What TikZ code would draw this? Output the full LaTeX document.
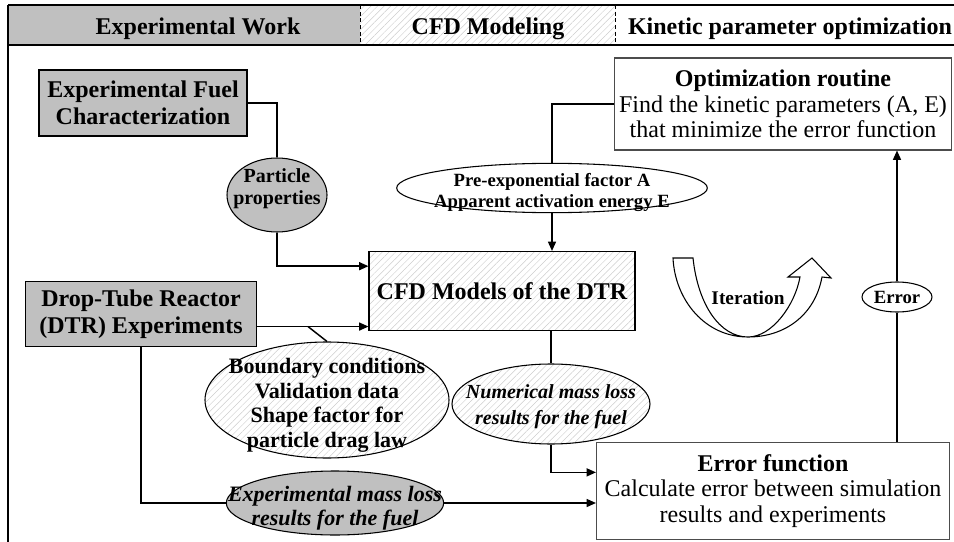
\documentclass[tikz,border=0pt]{standalone}
\usepackage{fontspec}
\setmainfont{Liberation Serif}
\usetikzlibrary{arrows.meta,positioning,calc,shapes.geometric,patterns.meta}
\definecolor{boxgray}{RGB}{192,192,192}
\definecolor{hatchgray}{RGB}{205,205,205}
% text of an ellipse, kept out of the shape size
\newcommand{\elltext}[2][-4pt]{\smash{\makebox[0pt]{\raisebox{#1}{\begin{tabular}{@{}c@{}}#2\end{tabular}}}}}

\begin{document}
\begin{tikzpicture}[x=0.75pt, y=-0.75pt,
  graybox/.style={draw, fill=boxgray, line width=0.8pt, align=center, font=\fontsize{18}{20}\selectfont\bfseries},
  whitebox/.style={draw=black!70, line width=0.8pt, align=center, font=\fontsize{18}{19}\selectfont},
  hatch/.style={pattern={Lines[angle=45,distance=3.5pt,line width=0.35pt]}, pattern color=hatchgray},
  ell/.style={ellipse, draw, line width=0.8pt, inner sep=0pt},
  headtext/.style={font=\fontsize{18}{20}\selectfont\bfseries, anchor=base},
  line/.style={line width=1.1pt},
  arr/.style={line, -{Triangle[length=7pt,width=6pt]}}
]
  \useasboundingbox (0,0) rectangle (954,542);

  % header band
  \fill[boxgray] (8,5) rectangle (360,45);
  \path[hatch] (360,5) rectangle (615,45);
  \draw[line width=0.8pt] (8,5) -- (954,5);
  \draw[line width=1.5pt] (8,45) -- (954,45);
  \draw[line width=0.8pt] (8,5) -- (8,542);
  \draw[dash pattern=on 3pt off 2pt, line width=0.6pt] (360,5) -- (360,45) (615,5) -- (615,45);
  \node[headtext] (hexp) at (198,35) {Experimental Work};
  \node[headtext] (hcfd) at (488,35) {CFD Modeling};
  \node[headtext] (hkin) at (790,35) {Kinetic parameter optimization};

  % experimental side
  \node[graybox, minimum width=156pt, minimum height=49.5pt] (fuelbox) at (143,103) {Experimental Fuel\\Characterization};
  \node[ell, fill=boxgray, minimum width=75pt, minimum height=55.5pt, font=\fontsize{15}{17}\selectfont\bfseries] (ppell) at (277,195) {\elltext[1pt]{Particle\\properties}};
  \node[graybox, minimum width=173pt, minimum height=48.75pt] (dtrbox) at (141,314) {Drop-Tube Reactor\\(DTR) Experiments};
  \node[ell, hatch, minimum width=183pt, minimum height=87pt, font=\fontsize{16.5}{18.5}\selectfont\bfseries] (bcell) at (327,400) {\elltext[-8.5pt]{Boundary conditions\\Validation data\\Shape factor for\\particle drag law}};
  \node[ell, fill=boxgray, minimum width=163pt, minimum height=48pt, font=\fontsize{16.5}{18.5}\selectfont\bfseries\itshape] (emell) at (335,503) {\elltext[-8.5pt]{Experimental mass loss\\results for the fuel}};

  % CFD side
  \node[draw, hatch, line width=0.8pt, minimum width=199.5pt, minimum height=59.25pt, font=\fontsize{18}{20}\selectfont\bfseries] (cfdbox) at (502,291) {CFD Models of the DTR};
  \node[ell, minimum width=233pt, minimum height=37pt, font=\fontsize{14}{15.5}\selectfont\bfseries] (paramell) at (552,188) {\elltext[-7pt]{Pre-exponential factor A\\Apparent activation energy E}};
  \node[ell, hatch, minimum width=148.5pt, minimum height=60pt, font=\fontsize{15}{19}\selectfont\bfseries\itshape] (numell) at (551,404) {\elltext[-5.5pt]{Numerical mass loss\\results for the fuel}};

  % optimization side
  \node[whitebox, minimum width=252.75pt, minimum height=69pt] (optbox) at (783,104) {\textbf{Optimization routine}\\Find the kinetic parameters (A, E)\\that minimize the error function};
  \node[whitebox, minimum width=264.75pt, minimum height=72.75pt] (errbox) at (773,491) {\textbf{Error function}\\Calculate error between simulation\\results and experiments};
  \node[ell, minimum width=52.5pt, minimum height=22.5pt, font=\fontsize{14}{16}\selectfont\bfseries] (errell) at (897,297) {\elltext[-5pt]{Error}};

  % iteration arrow
  \draw[line width=0.8pt, fill=white] (673,258) -- (693,258)
    .. controls (698,305) and (720,337) .. (748,337)
    .. controls (772,337) and (795,305) .. (800,277)
    -- (788,277) -- (812,258) -- (831,278) -- (822,277)
    .. controls (815,315) and (785,337) .. (748,337)
    .. controls (705,337) and (675,300) .. (673,258) -- cycle;
  \node[font=\fontsize{14.5}{16}\selectfont\bfseries] (iter) at (748,298) {Iteration};

  % connectors
  \draw[line] (fuelbox.east) -| (ppell.north);
  \coordinate (cfdin) at ($(cfdbox.north west)!0.19!(cfdbox.south west)$);
  \draw[arr] (ppell.south) |- (cfdin);
  \coordinate (dtrout) at ($(dtrbox.north east)!0.69!(dtrbox.south east)$);
  \draw[arr] (dtrout) -- (dtrout -| cfdbox.west);
  \draw[line] ($(dtrout -| bcell.north)+(-19,0)$) -- (bcell.north);
  \draw[line] (optbox.west) -| (paramell.north);
  \draw[arr] (paramell.south) -- (paramell.south |- cfdbox.north);
  \draw[line] (numell.north |- cfdbox.south) -- (numell.north);
  \coordinate (errin) at ($(errbox.north west)!0.31!(errbox.south west)$);
  \draw[arr] (numell.south) |- (errin);
  \draw[line] (dtrbox.south) |- (emell.west);
  \draw[arr] (emell.east) -- (emell.east -| errbox.west);
  \draw[line] (errbox.north -| errell.south) -- (errell.south);
  \draw[arr] (errell.north) -- (errell.north |- optbox.south);
\end{tikzpicture}
\end{document}
